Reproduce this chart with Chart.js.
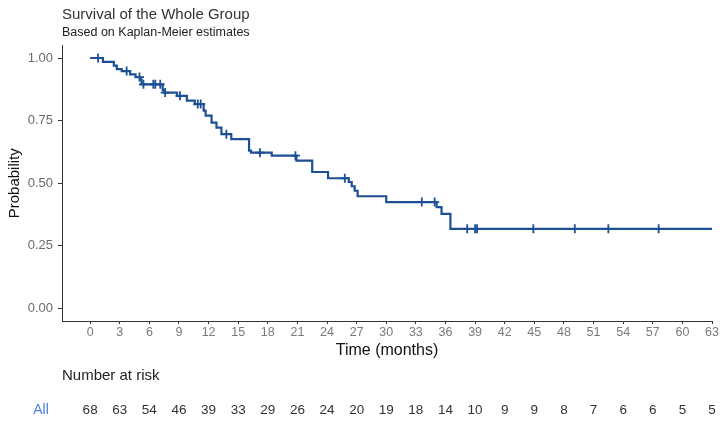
<!DOCTYPE html>
<html>
<head>
<meta charset="utf-8">
<script src="https://cdn.jsdelivr.net/npm/chart.js@4.4.1/dist/chart.umd.min.js"></script>
<style>
  html, body { margin: 0; padding: 0; background: #ffffff; overflow: hidden; }
  #wrap { position: relative; width: 726px; height: 422px; }
</style>
</head>
<body>
<div id="wrap"><canvas id="c"></canvas></div>
<script>
// ---- data ----
const eventTimes = [0, 1.3, 2.4, 2.7, 3.2, 4.05, 4.6, 5.06, 5.2, 7.35, 7.5, 8.8, 9.8, 10.6, 11.5, 11.7, 12.3, 12.8, 13.3, 14.3, 16.1, 16.3, 18.4, 20.9, 22.5, 24.1, 26.2, 26.5, 26.8, 27.1, 30.0, 35.1, 35.6, 36.5, 63];
const survival   = [1.0, 0.985, 0.970, 0.956, 0.948, 0.935, 0.924, 0.915, 0.895, 0.872, 0.862, 0.849, 0.830, 0.816, 0.790, 0.770, 0.742, 0.722, 0.696, 0.676, 0.630, 0.622, 0.610, 0.590, 0.545, 0.520, 0.505, 0.488, 0.470, 0.448, 0.425, 0.405, 0.378, 0.318, 0.318];
const censorTimes = [0.8, 3.7, 5.0, 5.4, 6.4, 6.6, 7.1, 7.6, 9.1, 10.9, 11.2, 13.8, 17.2, 20.8, 25.8, 33.6, 34.9, 38.2, 39.0, 39.2, 44.9, 49.1, 52.5, 57.6];
const riskTimes = [0, 3, 6, 9, 12, 15, 18, 21, 24, 27, 30, 33, 36, 39, 42, 45, 48, 51, 54, 57, 60, 63];
const riskCounts = [68, 63, 54, 46, 39, 33, 29, 26, 24, 20, 19, 18, 14, 10, 9, 9, 8, 7, 6, 6, 5, 5];
const yTicks = [0, 0.25, 0.5, 0.75, 1.0];
const yTickLabels = ["0.00", "0.25", "0.50", "0.75", "1.00"];
const groupName = "All";

// ---- build datasets from the arrays ----
const curvePts = eventTimes.map((t, i) => ({ x: t, y: survival[i] }));
function survAt(t) {
  let s = survival[0];
  for (let i = 0; i < eventTimes.length; i++) { if (eventTimes[i] <= t) s = survival[i]; }
  return s;
}
const censorPts = censorTimes.map(t => ({ x: t, y: survAt(t) }));

const FONT = "'Liberation Sans', Arial, sans-serif";
const LINE = '#1c4f94';

const riskTable = {
  id: 'riskTable',
  afterDraw(chart) {
    const ctx = chart.ctx;
    const xs = chart.scales.x;
    ctx.save();
    ctx.textBaseline = 'middle';
    ctx.fillStyle = '#222';
    ctx.font = '15px ' + FONT;
    ctx.textAlign = 'left';
    ctx.fillText('Number at risk', chart.chartArea.left, 376);
    ctx.fillStyle = '#4a80e0';
    ctx.textAlign = 'center';
    ctx.font = '14px ' + FONT;
    ctx.fillText(groupName, 41, 410);
    ctx.fillStyle = '#333';
    ctx.font = '13.5px ' + FONT;
    riskTimes.forEach((t, i) => {
      ctx.fillText(String(riskCounts[i]), xs.getPixelForValue(t), 410);
    });
    ctx.restore();
  }
};

new Chart(document.getElementById('c'), {
  type: 'line',
  data: {
    datasets: [
      {
        label: 'KM',
        data: curvePts,
        borderColor: LINE,
        backgroundColor: LINE,
        borderWidth: 2.2,
        pointRadius: 0,
        stepped: true,
        fill: false,
        order: 2
      },
      {
        type: 'scatter',
        label: 'Censored',
        data: censorPts,
        borderColor: LINE,
        backgroundColor: LINE,
        pointStyle: 'cross',
        pointRadius: 4.5,
        pointBorderWidth: 1.8,
        showLine: false,
        order: 1
      }
    ]
  },
  options: {
    responsive: true,
    maintainAspectRatio: false,
    animation: false,
    layout: { padding: { left: 0, right: 14, top: 0, bottom: 62 } },
    plugins: {
      legend: { display: false },
      tooltip: { enabled: false },
      title: {
        display: true,
        text: 'Survival of the Whole Group',
        align: 'start',
        fullSize: false,
        color: '#333',
        font: { family: FONT, size: 15, weight: 'normal' },
        padding: { top: 6, bottom: 1 }
      },
      subtitle: {
        display: true,
        text: 'Based on Kaplan-Meier estimates',
        align: 'start',
        fullSize: false,
        color: '#222',
        font: { family: FONT, size: 12.5, weight: 'normal' },
        padding: { top: 0.5, bottom: 5 }
      }
    },
    scales: {
      x: {
        type: 'linear',
        min: -2.85,
        max: 63,
        afterBuildTicks(scale) { scale.ticks = riskTimes.map(v => ({ value: v })); },
        afterFit(scale) { scale.height = 39; },
        ticks: {
          color: '#7a7a7a',
          font: { family: FONT, size: 12.5 },
          padding: 1,
          maxRotation: 0,
          autoSkip: false,
          callback: (v) => String(v)
        },
        grid: { drawOnChartArea: false, drawTicks: true, tickLength: 3, color: '#333', lineWidth: 1 },
        border: { display: true, color: '#333', width: 1 },
        title: {
          display: true,
          text: 'Time (months)',
          color: '#111',
          font: { family: FONT, size: 16 },
          padding: { top: 2, bottom: 0 }
        }
      },
      y: {
        min: -0.05,
        max: 1.05,
        afterBuildTicks(scale) { scale.ticks = yTicks.map(v => ({ value: v })); },
        afterFit(scale) { scale.width = 62; },
        ticks: {
          color: '#6a6a6a',
          font: { family: FONT, size: 13 },
          padding: 5,
          autoSkip: false,
          callback: (v) => { const i = yTicks.indexOf(v); return i >= 0 ? yTickLabels[i] : ''; }
        },
        grid: { drawOnChartArea: false, drawTicks: true, tickLength: 4, color: '#333', lineWidth: 1 },
        border: { display: true, color: '#333', width: 1 },
        title: {
          display: true,
          text: 'Probability',
          color: '#111',
          font: { family: FONT, size: 15 },
          padding: { top: 6, bottom: 0 }
        }
      }
    }
  },
  plugins: [riskTable]
});
</script>
</body>
</html>
